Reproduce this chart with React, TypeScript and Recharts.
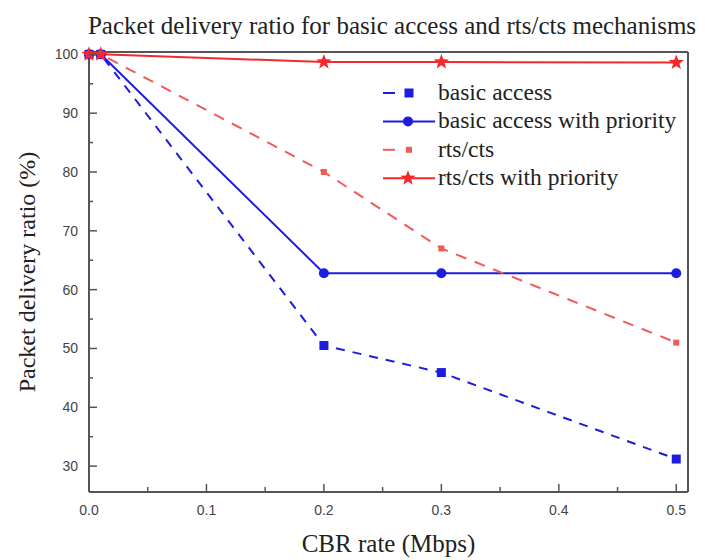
import { LineChart, Line, XAxis, YAxis, Legend, ReferenceLine, Label } from "recharts";

const cbrRates = [0, 0.01, 0.2, 0.3, 0.5];
const basicAccess = [100, 100, 50.5, 45.9, 31.2];
const basicAccessPriority = [100, 100, 62.8, 62.8, 62.8];
const rtsCts = [100, 100, 80, 67, 51];
const rtsCtsPriority = [100, 100, 98.7, 98.7, 98.6];

const xTicks = [0, 0.05, 0.1, 0.15, 0.2, 0.25, 0.3, 0.35, 0.4, 0.45, 0.5];
const yTicks = [30, 35, 40, 45, 50, 55, 60, 65, 70, 75, 80, 85, 90, 95, 100];

const data = cbrRates.map((x, i) => ({
  x,
  basic: basicAccess[i],
  basicPrio: basicAccessPriority[i],
  rts: rtsCts[i],
  rtsPrio: rtsCtsPriority[i],
}));

const BLUE = "#1d1de0";
const RED = "#f42a2a";
const RED_LIGHT = "#f25a5a";
const AXIS = "#555";
const SERIF = "'Liberation Serif', 'Times New Roman', serif";
const SANS = "'Liberation Sans', Arial, sans-serif";

const Square = ({ cx, cy, size, fill }: any) => (
  <rect x={cx - size / 2} y={cy - size / 2} width={size} height={size} fill={fill} />
);

const Star = ({ cx, cy, r, fill }: any) => {
  const pts: string[] = [];
  for (let k = 0; k < 10; k++) {
    const rad = k % 2 === 0 ? r : r * 0.42;
    const a = -Math.PI / 2 + (k * Math.PI) / 5;
    pts.push(`${cx + rad * Math.cos(a)},${cy + rad * Math.sin(a)}`);
  }
  return <polygon points={pts.join(" ")} fill={fill} />;
};

// marker for each series, used by both plot and legend
const markers: Record<string, (cx: number, cy: number) => JSX.Element> = {
  basic: (cx, cy) => <Square cx={cx} cy={cy} size={9} fill={BLUE} />,
  basicPrio: (cx, cy) => <circle cx={cx} cy={cy} r={5} fill={BLUE} />,
  rts: (cx, cy) => <Square cx={cx} cy={cy} size={6} fill={RED_LIGHT} />,
  rtsPrio: (cx, cy) => <Star cx={cx} cy={cy} r={8} fill={RED} />,
};

const dotFor = (key: string) => (props: any) => (
  <g key={`${key}-${props.index}`}>{markers[key](props.cx, props.cy)}</g>
);

const XTick = ({ x, y, payload }: any) => {
  const v = payload.value;
  const major = Math.abs(v * 10 - Math.round(v * 10)) < 1e-6;
  return (
    <g>
      <line x1={x} x2={x} y1={y} y2={y - (major ? 8 : 5)} stroke={AXIS} strokeWidth={1.5} />
      {major && (
        <text x={x} y={y + 23} textAnchor="middle" fontSize={14} fill="#444" fontFamily={SANS}>
          {v.toFixed(1)}
        </text>
      )}
    </g>
  );
};

const YTick = ({ x, y, payload }: any) => {
  const v = payload.value;
  const major = v % 10 === 0;
  return (
    <g>
      <line x1={x} x2={x + (major ? 8 : 4)} y1={y} y2={y} stroke={AXIS} strokeWidth={1.5} />
      {major && (
        <text x={x - 11} y={y + 5} textAnchor="end" fontSize={14} fill="#444" fontFamily={SANS}>
          {v}
        </text>
      )}
    </g>
  );
};

const renderLegend = (props: any) => {
  const rows = props.payload || [];
  return (
    <svg width={320} height={120}>
      {rows.map((entry: any, i: number) => {
        const key = entry.dataKey as string;
        const cy = 14 + i * 28.4;
        const dashed = key === "basic" || key === "rts";
        return (
          <g key={key}>
            {dashed ? (
              <>
                <line x1={3} x2={15} y1={cy} y2={cy} stroke={entry.color} strokeWidth={2} />
                {markers[key](29, cy)}
              </>
            ) : (
              <>
                <line x1={3} x2={55} y1={cy} y2={cy} stroke={entry.color} strokeWidth={2} />
                {markers[key](28, cy)}
              </>
            )}
            <text x={58} y={cy + 7} fontSize={23.5} fill="#222" fontFamily={SERIF}>
              {entry.value}
            </text>
          </g>
        );
      })}
    </svg>
  );
};

export default function App() {
  return (
    <div style={{ position: "absolute", left: 0, top: 0, width: 705, height: 560, background: "#fff" }}>
      <div
        style={{
          position: "absolute",
          left: 0,
          top: 11,
          width: 784,
          textAlign: "center",
          fontFamily: SERIF,
          fontSize: 25,
          lineHeight: "30px",
          color: "#222",
          whiteSpace: "nowrap",
        }}
      >
        Packet delivery ratio for basic access and rts/cts mechanisms
      </div>
      <LineChart width={705} height={560} data={data} margin={{ top: 52, right: 17, bottom: 0, left: 0 }}>
        <XAxis
          dataKey="x"
          type="number"
          domain={[0, 0.51]}
          ticks={xTicks}
          interval={0}
          height={68}
          tickSize={0}
          tickMargin={0}
          tickLine={false}
          axisLine={{ stroke: AXIS, strokeWidth: 2 }}
          tick={<XTick />}
        >
          <Label
            value="CBR rate (Mbps)"
            position="insideBottom"
            offset={8}
            style={{ fontFamily: SERIF, fontSize: 25, fill: "#222" }}
          />
        </XAxis>
        <YAxis
          type="number"
          domain={[25.6, 100.4]}
          ticks={yTicks}
          interval={0}
          width={89}
          tickSize={0}
          tickMargin={0}
          tickLine={false}
          axisLine={{ stroke: AXIS, strokeWidth: 2 }}
          tick={<YTick />}
        >
          <Label
            value="Packet delivery ratio (%)"
            angle={-90}
            position="insideLeft"
            offset={26}
            style={{ fontFamily: SERIF, fontSize: 24, fill: "#222", textAnchor: "middle" }}
          />
        </YAxis>
        <ReferenceLine y={100.4} stroke={AXIS} strokeWidth={2} />
        <ReferenceLine x={0.51} stroke={AXIS} strokeWidth={2} />
        <Line
          dataKey="basic"
          name="basic access"
          type="linear"
          stroke={BLUE}
          strokeWidth={2}
          strokeDasharray="9 8"
          dot={dotFor("basic")}
          isAnimationActive={false}
        />
        <Line
          dataKey="basicPrio"
          name="basic access with priority"
          type="linear"
          stroke={BLUE}
          strokeWidth={2}
          dot={dotFor("basicPrio")}
          isAnimationActive={false}
        />
        <Line
          dataKey="rts"
          name="rts/cts"
          type="linear"
          stroke={RED_LIGHT}
          strokeWidth={2}
          strokeDasharray="11 9"
          dot={dotFor("rts")}
          isAnimationActive={false}
        />
        <Line
          dataKey="rtsPrio"
          name="rts/cts with priority"
          type="linear"
          stroke={RED}
          strokeWidth={2}
          dot={dotFor("rtsPrio")}
          isAnimationActive={false}
        />
        <Legend
          layout="vertical"
          align="center"
          verticalAlign="middle"
          content={renderLegend}
          wrapperStyle={{ position: "absolute", left: 380, top: 79, width: 320, height: 120 }}
        />
      </LineChart>
    </div>
  );
}
